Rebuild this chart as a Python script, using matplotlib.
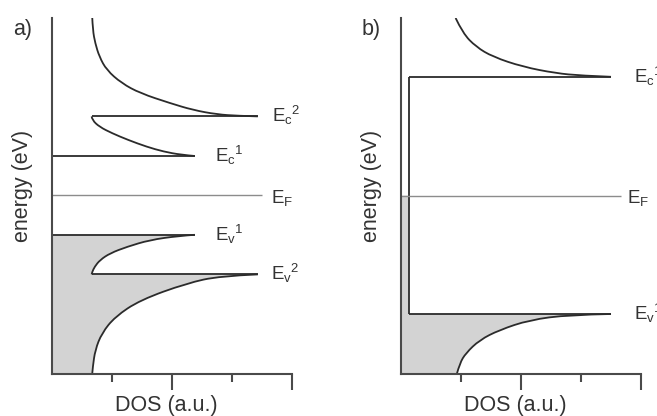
import matplotlib
matplotlib.use('Agg')
import matplotlib.pyplot as plt
from matplotlib.path import Path
from matplotlib.patches import PathPatch
from matplotlib.ticker import FixedLocator, NullFormatter

plt.rcParams['font.family'] = ['Liberation Sans', 'DejaVu Sans']
plt.rcParams['mathtext.fontset'] = 'custom'
plt.rcParams['mathtext.rm'] = 'Liberation Sans'
plt.rcParams['mathtext.it'] = 'Liberation Sans'

# ---- panel a) : levels (schematic energy units) ----
a_Ec2, a_Ec1, a_EF, a_Ev1, a_Ev2 = 6.44, 5.45, 4.47, 3.48, 2.49
a_edge = 0.66          # DOS where the second subbands start
a_end1, a_end2, a_endF = 2.38, 3.43, 3.5

# DOS curves (DOS, energy)
a_c2_dos = [0.67, 0.68, 0.72, 0.79, 0.91, 1.16, 1.47, 1.97, 2.35, 2.75, 3.1, 3.43]
a_c2_E = [8.93, 8.6, 8.27, 7.93, 7.6, 7.27, 7.02, 6.77, 6.6, 6.49, 6.455, 6.44]
a_c1_dos = [0.66, 0.67, 0.79, 1.0, 1.27, 1.58, 1.86, 2.15, 2.38]
a_c1_E = [6.44, 6.35, 6.18, 6.02, 5.85, 5.68, 5.56, 5.48, 5.45]
a_v1_dos = [2.38, 2.1, 1.63, 1.25, 0.97, 0.8, 0.71, 0.67, 0.66]
a_v1_E = [3.48, 3.45, 3.35, 3.18, 3.02, 2.85, 2.68, 2.55, 2.49]
a_v2_dos = [3.43, 2.8, 2.25, 1.47, 1.05, 0.83, 0.72, 0.68, 0.67]
a_v2_E = [2.49, 2.45, 2.27, 1.85, 1.43, 1.02, 0.6, 0.18, 0.0]

# ---- panel b) ----
b_Ec, b_EF, b_Ev = 7.43, 4.46, 1.5
b_gap = 0.127          # DOS of the vertical gap edge
b_end, b_endF = 3.5, 3.67
b_c_dos = [0.91, 1.03, 1.25, 1.53, 2.03, 2.58, 3.0, 3.5]
b_c_E = [8.9, 8.52, 8.18, 7.93, 7.68, 7.52, 7.46, 7.43]
b_v_dos = [3.5, 2.8, 2.14, 1.64, 1.31, 1.08, 0.98, 0.93]
b_v_E = [1.5, 1.48, 1.35, 1.1, 0.85, 0.52, 0.27, 0.0]

line_c = '#2b2b2b'
ef_c = '#8c8c8c'
fill_c = '#d3d3d3'
spine_c = '#4a4a4a'
text_c = '#333333'
lw = 1.3


def curve_segs(xs, ys):
    # quadratic bezier pieces through the read points (after the first one)
    pts = list(zip(xs, ys))
    verts, codes = [], []
    for i in range(1, len(pts) - 1):
        if i < len(pts) - 2:
            end = ((pts[i][0] + pts[i + 1][0]) / 2, (pts[i][1] + pts[i + 1][1]) / 2)
        else:
            end = pts[i + 1]
        verts += [pts[i], end]
        codes += [Path.CURVE3, Path.CURVE3]
    return verts, codes


def draw_curve(ax, xs, ys):
    v, c = curve_segs(xs, ys)
    path = Path([(xs[0], ys[0])] + v, [Path.MOVETO] + c)
    ax.add_patch(PathPatch(path, fill=False, edgecolor=line_c, lw=lw,
                           capstyle='butt', zorder=3))


W, H = 657, 416
fig = plt.figure(figsize=(W / 100, H / 100), dpi=100)
ax_a = fig.add_axes([52 / W, 42 / H, 240 / W, 356 / H])
ax_b = fig.add_axes([401 / W, 42 / H, 240 / W, 356 / H])


def style(ax, label_x):
    ax.set_xlim(0, 4)
    ax.set_ylim(0, 8.9)
    for s in ['top', 'right']:
        ax.spines[s].set_visible(False)
    for s in ['left', 'bottom']:
        ax.spines[s].set_color(spine_c)
        ax.spines[s].set_linewidth(1.5)
        ax.spines[s].set_zorder(5)
    ax.set_yticks([])
    ax.xaxis.set_major_locator(FixedLocator([2, 4]))
    ax.xaxis.set_minor_locator(FixedLocator([1, 3]))
    ax.xaxis.set_major_formatter(NullFormatter())
    ax.tick_params(axis='x', which='major', direction='out', length=11.5,
                   width=1.5, color=spine_c)
    ax.tick_params(axis='x', which='minor', direction='out', length=5.8,
                   width=1.5, color=spine_c)
    ax.set_xlabel('DOS (a.u.)', fontsize=15.5, color=text_c)
    ax.xaxis.set_label_coords(label_x, -0.06)
    ax.set_ylabel('energy (eV)', fontsize=15.5, color=text_c)
    ax.yaxis.set_label_coords(-0.079, 0.528)


def level_label(ax, x, y, txt):
    ax.annotate(txt, xy=(x, y), xytext=(0, -4.2), textcoords='offset points',
                fontsize=13.5, color=text_c, va='baseline', ha='left',
                annotation_clip=False)


# ---------- a) ----------
style(ax_a, 0.475)
v2r_x, v2r_y = a_v2_dos[::-1], a_v2_E[::-1]
v1r_x, v1r_y = a_v1_dos[::-1], a_v1_E[::-1]
s2v, s2c = curve_segs(v2r_x, v2r_y)
s1v, s1c = curve_segs(v1r_x, v1r_y)
verts = [(0, 0), (v2r_x[0], v2r_y[0])] + s2v + [(v1r_x[0], v1r_y[0])] + s1v + [(0, a_Ev1), (0, 0)]
codes = [Path.MOVETO, Path.LINETO] + s2c + [Path.LINETO] + s1c + [Path.LINETO, Path.CLOSEPOLY]
ax_a.add_patch(PathPatch(Path(verts, codes), facecolor=fill_c, lw=0, zorder=1))

for xs, ys in [(a_c2_dos, a_c2_E), (a_c1_dos, a_c1_E),
               (a_v1_dos, a_v1_E), (a_v2_dos, a_v2_E)]:
    draw_curve(ax_a, xs, ys)
ax_a.hlines([a_Ec2, a_Ev2], a_edge, a_end2, color=line_c, lw=lw, zorder=3)
ax_a.hlines([a_Ec1, a_Ev1], 0, a_end1, color=line_c, lw=lw, zorder=3)
ax_a.hlines(a_EF, 0, a_endF, color=ef_c, lw=1.0, zorder=3)

level_label(ax_a, 3.67, a_Ec2, r'$\mathregular{E_c}^{\mathregular{2}}$')
level_label(ax_a, 2.72, a_Ec1, r'$\mathregular{E_c}^{\mathregular{1}}$')
level_label(ax_a, 3.645, a_EF - 0.05, r'$\mathregular{E_F}$')
level_label(ax_a, 2.72, a_Ev1, r'$\mathregular{E_v}^{\mathregular{1}}$')
level_label(ax_a, 3.645, a_Ev2, r'$\mathregular{E_v}^{\mathregular{2}}$')

# ---------- b) ----------
style(ax_b, 0.478)
vr_x, vr_y = b_v_dos[::-1], b_v_E[::-1]
sv, sc = curve_segs(vr_x, vr_y)
verts = [(0, 0), (vr_x[0], vr_y[0])] + sv + [(b_gap, b_Ev), (b_gap, b_EF), (0, b_EF), (0, 0)]
codes = [Path.MOVETO, Path.LINETO] + sc + [Path.LINETO] * 3 + [Path.CLOSEPOLY]
ax_b.add_patch(PathPatch(Path(verts, codes), facecolor=fill_c, lw=0, zorder=1))

draw_curve(ax_b, b_c_dos, b_c_E)
draw_curve(ax_b, b_v_dos, b_v_E)
ax_b.hlines([b_Ec, b_Ev], b_gap, b_end, color=line_c, lw=lw, zorder=3)
ax_b.vlines(b_gap, b_Ev, b_Ec, color=line_c, lw=lw, zorder=3)
ax_b.hlines(b_EF, 0, b_endF, color=ef_c, lw=1.0, zorder=3)

level_label(ax_b, 3.89, b_Ec, r'$\mathregular{E_c}^{\mathregular{1}}$')
level_label(ax_b, 3.77, b_EF - 0.05, r'$\mathregular{E_F}$')
level_label(ax_b, 3.89, b_Ev, r'$\mathregular{E_v}^{\mathregular{1}}$')

fig.text(13 / W, 1 - 35 / H, 'a)', fontsize=15.5, color=text_c, va='baseline')
fig.text(362 / W, 1 - 35 / H, 'b)', fontsize=15.5, color=text_c, va='baseline')

fig.savefig('out.png', dpi=100)
